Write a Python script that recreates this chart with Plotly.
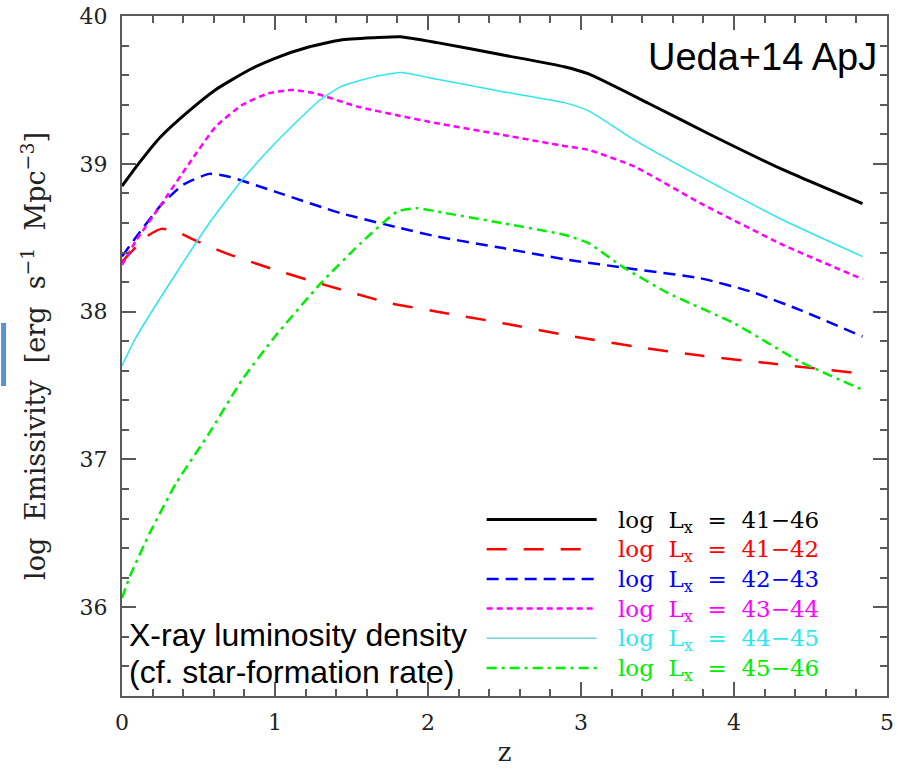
import plotly.graph_objects as go

# Redshift grid and log emissivity for each luminosity band
z_all = [0, 0.1, 0.25, 0.44, 0.61, 0.83, 1.0, 1.22, 1.43, 1.65, 1.82, 2.06, 2.49, 2.89, 3.05, 3.44, 3.85, 4.32, 4.84]
e_all = [38.85, 38.99, 39.18, 39.36, 39.50, 39.635, 39.714, 39.79, 39.838, 39.853, 39.86, 39.82, 39.736, 39.657, 39.608, 39.41, 39.195, 38.96, 38.73]

z_4142 = [0, 0.084, 0.16, 0.257, 0.354, 0.483, 0.677, 1.0, 1.325, 1.755, 2.06, 2.49, 2.92, 3.35, 3.78, 4.22, 4.84]
e_4142 = [38.337, 38.43, 38.508, 38.56, 38.542, 38.48, 38.396, 38.283, 38.181, 38.057, 38.0, 37.922, 37.838, 37.764, 37.703, 37.652, 37.58]

z_4243 = [0, 0.095, 0.246, 0.397, 0.57, 0.70, 1.0, 1.43, 1.82, 2.06, 2.49, 2.89, 3.35, 3.78, 4.11, 4.43, 4.84]
e_4243 = [38.373, 38.508, 38.71, 38.857, 38.932, 38.913, 38.812, 38.666, 38.565, 38.508, 38.43, 38.355, 38.287, 38.226, 38.136, 38.012, 37.832]

z_4344 = [0, 0.095, 0.246, 0.44, 0.613, 0.785, 0.958, 1.11, 1.26, 1.54, 1.82, 2.06, 2.49, 2.89, 3.05, 3.35, 3.78, 4.32, 4.84]
e_4344 = [38.316, 38.485, 38.71, 39.004, 39.252, 39.398, 39.477, 39.50, 39.477, 39.387, 39.324, 39.274, 39.195, 39.121, 39.094, 38.981, 38.734, 38.452, 38.22]

z_4445 = [0, 0.095, 0.354, 0.57, 0.785, 1.0, 1.28, 1.43, 1.65, 1.82, 2.06, 2.49, 2.89, 3.05, 3.35, 3.78, 4.32, 4.84]
e_4445 = [37.634, 37.832, 38.26, 38.598, 38.891, 39.139, 39.42, 39.522, 39.59, 39.617, 39.572, 39.488, 39.414, 39.358, 39.16, 38.913, 38.62, 38.373]

z_4546 = [0, 0.052, 0.181, 0.354, 0.57, 0.785, 1.0, 1.30, 1.56, 1.80, 1.93, 2.06, 2.49, 2.89, 3.05, 3.27, 3.57, 4.0, 4.43, 4.84]
e_4546 = [36.063, 36.21, 36.502, 36.84, 37.178, 37.539, 37.832, 38.193, 38.463, 38.677, 38.70, 38.677, 38.598, 38.52, 38.463, 38.305, 38.125, 37.922, 37.663, 37.471]

band_labels = ["41\u221246", "41\u221242", "42\u221243", "43\u221244", "44\u221245", "45\u221246"]
x_ticks = [0, 1, 2, 3, 4, 5]
y_ticks = [36, 37, 38, 39, 40]

series = [
    (z_all, e_all, "#000000", 3.0, "solid"),
    (z_4142, e_4142, "#ff0000", 2.5, "20px,17px"),
    (z_4243, e_4243, "#0000ff", 2.5, "12px,7px"),
    (z_4344, e_4344, "#ff00ff", 2.5, "6px,4px"),
    (z_4445, e_4445, "#2ee6ee", 1.5, "solid"),
    (z_4546, e_4546, "#00ee00", 2.5, "10px,5px,3px,5px"),
]

W, H = 898, 769
ML, MR, MT, MB = 122, 4, 16, 73
PW, PH = W - ML - MR, H - MT - MB


def px(x):
    return (x - ML) / PW


def py(y):
    return (H - MB - y) / PH


fig = go.Figure()
for (zs, es, col, lw, dash), lab in zip(series, band_labels):
    fig.add_trace(go.Scatter(
        x=zs, y=es, mode="lines", name="log Lx = " + lab,
        line=dict(color=col, width=lw, dash=dash, shape="spline", smoothing=0.5),
        showlegend=False,
    ))

serif = "DejaVu Serif"
sans = "Liberation Sans"
axis_col = "#5a5a5a"
sp2 = "&nbsp;&nbsp;"

shapes = []
annotations = []

# Hand-drawn key in the lower right corner
row0, row_step = 519.5, 29.7
for i, ((zs, es, col, lw, dash), lab) in enumerate(zip(series, band_labels)):
    yy = row0 + i * row_step
    shapes.append(dict(
        type="line", xref="paper", yref="paper",
        x0=px(490), x1=px(601), y0=py(yy), y1=py(yy),
        line=dict(color=col if col != "#2ee6ee" else "#6fd6d6", width=lw, dash=dash),
    ))
    annotations.append(dict(
        xref="paper", yref="paper", x=px(621), y=py(yy + 2),
        xanchor="left", yanchor="middle", showarrow=False,
        text="log" + sp2 + "L<sub>x</sub>" + sp2 + "=" + sp2 + lab,
        font=dict(family=serif, size=23, color=col),
    ))

annotations.append(dict(
    xref="paper", yref="paper", x=px(886), y=py(57),
    xanchor="right", yanchor="middle", showarrow=False,
    text="Ueda+14 ApJ", font=dict(family=sans, size=38, color="#000000"),
))
for txt, yy in [("X-ray luminosity density", 635), ("(cf. star-formation rate)", 672)]:
    annotations.append(dict(
        xref="paper", yref="paper", x=px(127), y=py(yy),
        xanchor="left", yanchor="middle", showarrow=False, align="left",
        text=txt, font=dict(family=sans, size=32, color="#000000"),
    ))

# Small blue tab at the left edge of the page
shapes.append(dict(
    type="rect", xref="paper", yref="paper",
    x0=px(0), x1=px(5), y0=py(386), y1=py(323),
    line=dict(width=0), fillcolor="#5a8fd2",
))

fig.update_layout(
    width=W, height=H,
    margin=dict(l=ML, r=MR, t=MT, b=MB),
    paper_bgcolor="white", plot_bgcolor="white",
    shapes=shapes, annotations=annotations,
    xaxis=dict(
        range=[0, 5], tickvals=x_ticks, ticktext=[str(v) for v in x_ticks],
        showgrid=False, zeroline=False,
        showline=True, linecolor=axis_col, linewidth=2, mirror="ticks",
        ticks="inside", ticklen=14, tickwidth=1.5, tickcolor=axis_col,
        minor=dict(ticks="inside", ticklen=7, tickwidth=1.5, tickcolor=axis_col, dtick=0.2, tick0=0, showgrid=False),
        tickfont=dict(family=serif, size=22, color="#222222"),
        ticklabelstandoff=6, ticklabeloverflow="allow",
        title=dict(text="z", font=dict(family=serif, size=26, color="#222222"), standoff=8),
    ),
    yaxis=dict(
        range=[35.4, 40], tickvals=y_ticks, ticktext=[str(v) for v in y_ticks],
        showgrid=False, zeroline=False,
        showline=True, linecolor=axis_col, linewidth=2, mirror="ticks",
        ticks="inside", ticklen=14, tickwidth=1.5, tickcolor=axis_col,
        minor=dict(ticks="inside", ticklen=7, tickwidth=1.5, tickcolor=axis_col, dtick=0.2, tick0=36, showgrid=False),
        tickfont=dict(family=serif, size=22, color="#222222"),
        ticklabelstandoff=8,
        title=dict(text="log" + sp2 + "Emissivity" + sp2 + "[erg" + sp2 + "s<sup>\u22121</sup>" + sp2
                   + "Mpc<sup>\u22123</sup>]",
                   font=dict(family=serif, size=27, color="#222222"), standoff=26),
    ),
)

fig.write_html("out.html")
